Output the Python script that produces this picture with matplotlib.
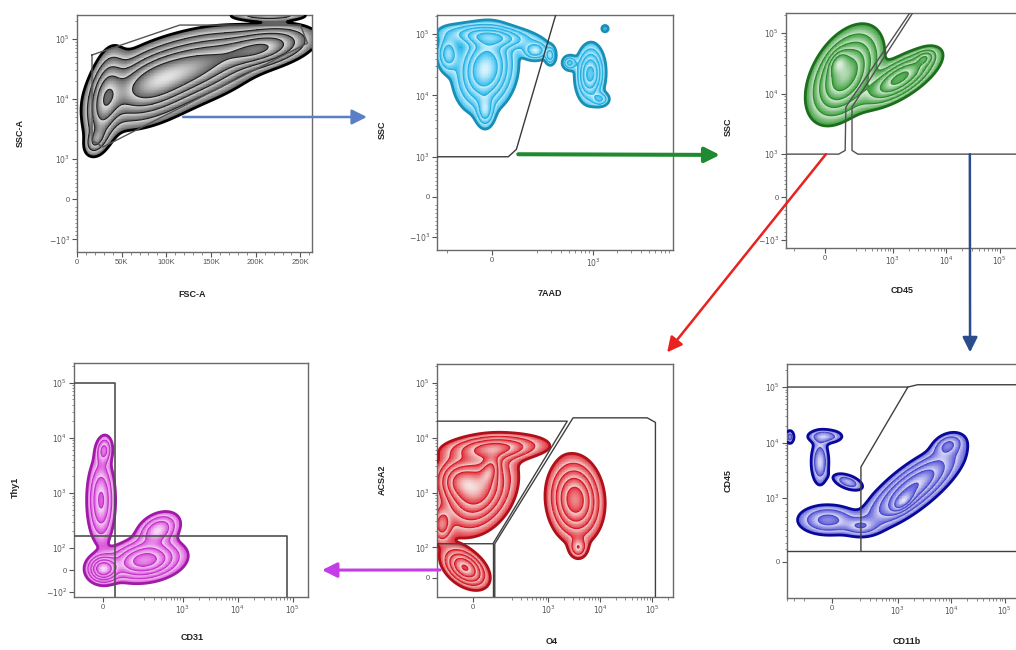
import numpy as np
import matplotlib
matplotlib.use("Agg")
import matplotlib.pyplot as plt
from matplotlib.colors import LinearSegmentedColormap
from matplotlib.patches import ConnectionPatch
from matplotlib.ticker import SymmetricalLogLocator, MultipleLocator, NullFormatter

plt.rcParams['font.family'] = ['Liberation Sans', 'DejaVu Sans']

# ---------------- data ----------------
# Panel 1: FSC-A vs SSC-A (all cells)
p1_pop_x = [31400, 81800, 138000, 207000, 21300, 215000]
p1_pop_y = [9550, 17000, 36300, 70200, 2040, 250000]
p1_pop_w = [0.65, 1.0, 0.85, 0.85, 0.3, 0.35]
p1_sd_major = [26, 30, 32, 26, 8, 20]
p1_sd_minor = [9, 17, 16, 10, 5, 3]
p1_tilt = [80, 25, 18, 12, 60, 0]
p1_gate_x = [16800, 16800, 29000, 258000, 250000, 115000, 16800]
p1_gate_y = [54000, 2050, 1580, 85000, 170000, 170000, 54000]

# Panel 2: 7AAD vs SSC (live cells)
p2_pop_x = [-34, -10, 190, -34, -195, 292, 922, 1230, 510, 1413]
p2_pop_y = [27000, 91000, 53700, 5500, 47500, 44700, 22400, 8700, 34000, 123000]
p2_pop_w = [1.0, 0.6, 0.45, 0.35, 0.4, 0.4, 0.8, 0.3, 0.35, 0.2]
p2_sd_major = [20, 24, 7, 9, 10, 5, 14, 5, 4, 2]
p2_sd_minor = [14, 6, 5, 5, 6, 3, 7, 4, 4, 2]
p2_tilt = [80, -5, 0, 90, 90, 90, 88, 0, 0, 0]
p2_gate_x = [-300, 77, 110, 360]
p2_gate_y = [1000, 1000, 1320, 260000]

# Panel 3: CD45 vs SSC
p3_pop_x = [127, 90, 1350, 3980]
p3_pop_y = [20400, 33100, 18000, 38900]
p3_pop_w = [1.0, 0.4, 0.85, 0.3]
p3_sd_major = [24, 8, 22, 6]
p3_sd_minor = [14, 5, 8.5, 4]
p3_tilt = [60, 60, 33, 30]
p3_gateA_x = [-300, 95, 128, 132, 2400]
p3_gateA_y = [1000, 1000, 1150, 6000, 260000]
p3_gateB_x = [2700, 172, 172, 220, 300000]
p3_gateB_y = [260000, 6000, 1150, 1000, 1000]

# Panel 4: CD31 vs Thy1
p4_pop_x = [-8, 4, 0, 205, 355]
p4_pop_y = [741, 6000, 5, 45, 212]
p4_pop_w = [0.55, 0.35, 1.0, 0.9, 0.5]
p4_sd_major = [22, 8, 8, 19, 12]
p4_sd_minor = [7, 4.5, 7, 10, 8]
p4_tilt = [90, 85, 0, 8, 30]
p4_gateA_x = [-200, 48, 48]
p4_gateA_y = [100000, 100000, -200]
p4_gateB_x = [-200, 79000, 79000]
p4_gateB_y = [166, 166, -200]

# Panel 5: O4 vs ACSA2
p5_pop_x = [22, 96, 74, -145, -35, 3310, 3800, -66]
p5_pop_y = [1120, 6500, 2600, 257, 33, 741, 99, 1700]
p5_pop_w = [1.0, 0.6, 0.45, 0.4, 0.85, 1.0, 0.3, 0.6]
p5_sd_major = [22, 26, 9, 10, 13, 20, 6, 12]
p5_sd_minor = [16, 7, 5, 6, 8, 13, 5, 12]
p5_tilt = [60, 3, 70, 90, -38, 95, 90, 0]
p5_gateA_x = [-300, 2340, 87, -300]
p5_gateA_y = [20000, 20000, 117, 117]
p5_gateB_x = [87, 87]
p5_gateB_y = [117, -200]
p5_gateC_x = [95, 95, 3020, 80000, 115000, 115000]
p5_gateC_y = [-200, 117, 23000, 23000, 19000, -200]

# Panel 6: CD11b vs CD45
p6_pop_x = [1840, 1250, 8700, -33, -97, -57, 117, -359, 200]
p6_pop_y = [1510, 940, 9100, 658, 4470, 12900, 1950, 12600, 560]
p6_pop_w = [1.0, 0.6, 0.4, 0.5, 0.4, 0.35, 0.35, 0.3, 0.3]
p6_sd_major = [30, 8, 9, 16, 13, 10, 9, 4, 10]
p6_sd_minor = [10, 4, 6, 8, 5, 4, 4, 2.5, 5]
p6_tilt = [38, 40, 25, 0, 90, 0, -20, 90, 0]
p6_gateA_x = [-500, 1550, 205, 205]
p6_gateA_y = [100000, 100000, 3630, 172]
p6_gateB_x = [-500, 300000]
p6_gateB_y = [172, 172]
p6_gateC_x = [1550, 2350, 300000]
p6_gateC_y = [100000, 110000, 110000]

# tick values / labels
lin_ticks = [0, 50000, 100000, 150000, 200000, 250000]
lin_labels = ['0', '50K', '100K', '150K', '200K', '250K']
y3_ticks = [-1000, 0, 1000, 10000, 100000]
y3_labels = [r'$-10^3$', '0', r'$10^3$', r'$10^4$', r'$10^5$']
x2_ticks = [0, 1000]
x2_labels = ['0', r'$10^3$']
x_ticks = [0, 1000, 10000, 100000]
x_labels = ['0', r'$10^3$', r'$10^4$', r'$10^5$']
y4_ticks = [-100, 0, 100, 1000, 10000, 100000]
y4_labels = [r'$-10^2$', '0', r'$10^2$', r'$10^3$', r'$10^4$', r'$10^5$']
y5_ticks = [0, 100, 1000, 10000, 100000]
y5_labels = ['0', r'$10^2$', r'$10^3$', r'$10^4$', r'$10^5$']
y6_ticks = [0, 1000, 10000, 100000]
y6_labels = ['0', r'$10^3$', r'$10^4$', r'$10^5$']

x_names = ['FSC-A', '7AAD', 'CD45', 'CD31', 'O4', 'CD11b']
y_names = ['SSC-A', 'SSC', 'SSC', 'Thy1', 'ACSA2', 'CD45']

# ---------------- figure ----------------
W, H = 1016, 650
fig = plt.figure(figsize=(W / 100, H / 100), dpi=100)
fig.patch.set_facecolor('white')


def rect(l, t, r, b):
    return [l / W, (H - b) / H, (r - l) / W, (b - t) / H]


def setup(box, xs, ys, xlim, ylim, xt, xl, yt, yl):
    ax = fig.add_axes(rect(*box))
    for sc, setter in ((xs, ax.set_xscale), (ys, ax.set_yscale)):
        if sc is None:
            setter('linear')
        else:
            setter('symlog', linthresh=sc[0], linscale=sc[1])
    ax.set_xlim(*xlim)
    ax.set_ylim(*ylim)
    ax.set_xticks(xt)
    ax.set_xticklabels(xl)
    ax.set_yticks(yt)
    ax.set_yticklabels(yl)
    if xs is None:
        ax.xaxis.set_minor_locator(MultipleLocator(10000))
    else:
        ax.xaxis.set_minor_locator(SymmetricalLogLocator(linthresh=xs[0], base=10, subs=np.arange(2, 10)))
    if ys is not None:
        ax.yaxis.set_minor_locator(SymmetricalLogLocator(linthresh=ys[0], base=10, subs=np.arange(2, 10)))
    ax.xaxis.set_minor_formatter(NullFormatter())
    ax.yaxis.set_minor_formatter(NullFormatter())
    ax.tick_params(which='major', length=3.5, width=0.8, color='#555555', labelsize=5.5,
                   labelcolor='#555555', pad=1.5)
    ax.tick_params(which='minor', length=1.8, width=0.6, color='#777777')
    for s in ax.spines.values():
        s.set_color('#6a6a6a')
        s.set_linewidth(1.0)
    return ax


def density(ax, px, py, w, sa, sb, ang, n=320):
    bb = ax.bbox
    gx = np.linspace(bb.x0, bb.x1, n)
    gy = np.linspace(bb.y0, bb.y1, n)
    GX, GY = np.meshgrid(gx, gy)
    pts = ax.transData.inverted().transform(np.column_stack([GX.ravel(), GY.ravel()]))
    XD = pts[:, 0].reshape(GX.shape)
    YD = pts[:, 1].reshape(GX.shape)
    cen = ax.transData.transform(np.column_stack([px, py]))
    Z = np.zeros_like(GX)
    for (cx, cy), wi, a, b, t in zip(cen, w, sa, sb, ang):
        th = np.deg2rad(t)
        dx, dy = GX - cx, GY - cy
        u = dx * np.cos(th) + dy * np.sin(th)
        v = -dx * np.sin(th) + dy * np.cos(th)
        Z += wi * np.exp(-0.5 * ((u / a) ** 2 + (v / b) ** 2))
    return XD, YD, Z / Z.max()


LEVELS = [0.06, 0.16, 0.3, 0.48, 0.7]


def zebra(ax, dens, pale, sat, line, edge, levels=LEVELS):
    XD, YD, Z = dens
    L = np.asarray(levels + [1.0001])
    idx = np.searchsorted(L, Z, side='right') - 1
    valid = idx >= 0
    idc = np.clip(idx, 0, len(L) - 2)
    f = np.clip((Z - L[idc]) / (L[idc + 1] - L[idc]), 0, 1)
    val = np.ma.masked_where(~valid, 1 - 0.9 * f)
    cmap = LinearSegmentedColormap.from_list('z', [pale, sat])
    ax.pcolormesh(XD, YD, val, cmap=cmap, vmin=0, vmax=1, shading='nearest', zorder=1)
    ax.contour(XD, YD, Z, levels=levels[1:], colors=[line], linewidths=0.8, zorder=2)
    ax.contour(XD, YD, Z, levels=levels[:1], colors=[edge], linewidths=2.0, zorder=3)


def gate(ax, gx, gy, color='#4a4a4a', lw=1.0):
    ax.plot(gx, gy, color=color, lw=lw, zorder=4, solid_joinstyle='round')


def names(ax, xn, yn, xpos, ypos):
    ax.text(xpos[0], xpos[1], xn, transform=ax.transAxes, ha='center', va='center',
            fontsize=6.5, fontweight='bold', color='#222222')
    ax.text(ypos[0], ypos[1], yn, transform=ax.transAxes, ha='center', va='center',
            rotation=90, fontsize=6.5, fontweight='bold', color='#222222')


# Panel 1
ax1 = setup((77, 15, 312, 252), None, (1000, 0.603), (0, 263000), (-1620, 250000),
            lin_ticks, lin_labels, y3_ticks, y3_labels)
zebra(ax1, density(ax1, p1_pop_x, p1_pop_y, p1_pop_w, p1_sd_major, p1_sd_minor, p1_tilt),
      '#f2f2f2', '#5a5a5a', '#202020', '#000000')
gate(ax1, p1_gate_x, p1_gate_y, color='#555555')
names(ax1, x_names[0], y_names[0], (0.489, -0.181), (-0.243, 0.502))

# Panel 2
ax2 = setup((437, 15, 673, 250), (100, 0.234), (1000, 0.585), (-270, 10000), (-1660, 205000),
            x2_ticks, x2_labels, y3_ticks, y3_labels)
zebra(ax2, density(ax2, p2_pop_x, p2_pop_y, p2_pop_w, p2_sd_major, p2_sd_minor, p2_tilt),
      '#eafaff', '#30bcee', '#28aee0', '#1a8fb5')
gate(ax2, p2_gate_x, p2_gate_y, color='#3a3a3a')
names(ax2, x_names[1], y_names[1], (0.479, -0.183), (-0.233, 0.51))

# Panel 3
ax3 = setup((786, 13, 1022, 248), (100, 0.243), (1000, 0.639), (-288, 260000), (-1350, 214000),
            x_ticks, x_labels, y3_ticks, y3_labels)
zebra(ax3, density(ax3, p3_pop_x, p3_pop_y, p3_pop_w, p3_sd_major, p3_sd_minor, p3_tilt),
      '#eef8ee', '#3a9c3a', '#2e8a2e', '#1c6e1c')
gate(ax3, p3_gateA_x, p3_gateA_y, color='#505050')
gate(ax3, p3_gateB_x, p3_gateB_y, color='#505050')
names(ax3, x_names[2], y_names[2], (0.49, -0.179), (-0.246, 0.515))

# Panel 4
ax4 = setup((74, 363, 308, 597), (100, 0.405), (100, 0.36), (-120, 190000), (-123, 230000),
            x_ticks, x_labels, y4_ticks, y4_labels)
zebra(ax4, density(ax4, p4_pop_x, p4_pop_y, p4_pop_w, p4_sd_major, p4_sd_minor, p4_tilt),
      '#fcecfc', '#d84ad8', '#c032c8', '#a01aa8')
gate(ax4, p4_gateA_x, p4_gateA_y, color='#505050', lw=1.2)
gate(ax4, p4_gateB_x, p4_gateB_y, color='#505050', lw=1.2)
names(ax4, x_names[3], y_names[3], (0.504, -0.175), (-0.252, 0.47))

# Panel 5
ax5 = setup((437, 364, 673, 597), (100, 0.396), (100, 0.495), (-178, 250000), (-64, 220000),
            x_ticks, x_labels, y5_ticks, y5_labels)
zebra(ax5, density(ax5, p5_pop_x, p5_pop_y, p5_pop_w, p5_sd_major, p5_sd_minor, p5_tilt),
      '#f7f3ef', '#e2303a', '#d01c28', '#b0101a')
gate(ax5, p5_gateA_x, p5_gateA_y, color='#404040')
gate(ax5, p5_gateB_x, p5_gateB_y, color='#404040')
gate(ax5, p5_gateC_x, p5_gateC_y, color='#404040')
names(ax5, x_names[4], y_names[4], (0.487, -0.193), (-0.233, 0.504))

# Panel 6
ax6 = setup((787, 364, 1022, 598), (100, 0.207), (1000, 1.035), (-407, 210000), (-565, 260000),
            x_ticks, x_labels, y6_ticks, y6_labels)
zebra(ax6, density(ax6, p6_pop_x, p6_pop_y, p6_pop_w, p6_sd_major, p6_sd_minor, p6_tilt),
      '#f2f2fc', '#5a5ad8', '#4a4ac8', '#08089a')
gate(ax6, p6_gateA_x, p6_gateA_y, color='#404040')
gate(ax6, p6_gateB_x, p6_gateB_y, color='#404040')
gate(ax6, p6_gateC_x, p6_gateC_y, color='#404040')
names(ax6, x_names[5], y_names[5], (0.51, -0.188), (-0.251, 0.504))

# ---------------- gating arrows ----------------
arrows = [
    (ax1, 'data', (118800, 5000), ax2, 'axes fraction', (-0.297, 0.566), '#5b7fc4', 1.8),
    (ax2, 'data', (116, 1100), ax3, 'axes fraction', (-0.28, 0.396), '#1f8a2f', 2.9),
    (ax3, 'data', (7, 1000), ax5, 'axes fraction', (0.975, 1.05), '#e8231f', 1.8),
    (ax3, 'data', (27500, 1000), ax6, 'axes fraction', (0.779, 1.05), '#2b4c8c', 1.8),
    (ax5, 'axes fraction', (0.013, 0.116), ax4, 'axes fraction', (1.06, 0.115), '#c43de6', 2.2),
]
for axA, cA, xyA, axB, cB, xyB, col, lw in arrows:
    con = ConnectionPatch(xyA=xyA, coordsA=cA, axesA=axA, xyB=xyB, coordsB=cB, axesB=axB,
                          arrowstyle='-|>,head_length=0.9,head_width=0.45', mutation_scale=10,
                          color=col, lw=lw, shrinkA=0, shrinkB=0, zorder=10)
    fig.add_artist(con)

fig.savefig('out.png', dpi=100, facecolor='white')
